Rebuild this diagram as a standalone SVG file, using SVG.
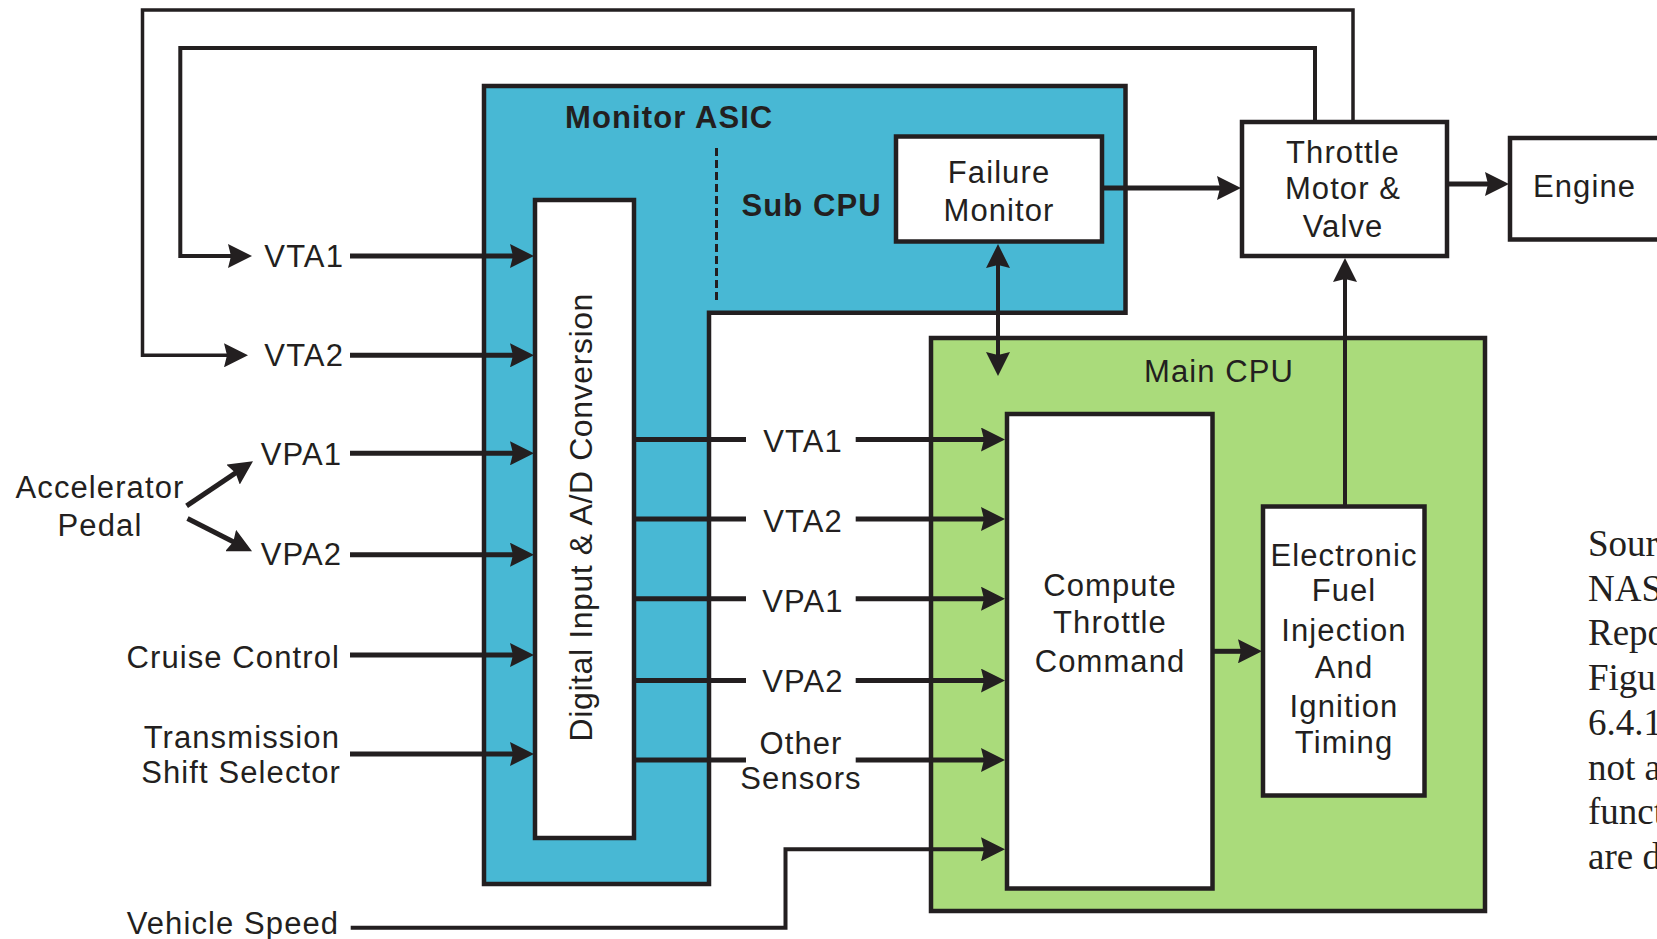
<svg xmlns="http://www.w3.org/2000/svg" width="1657" height="939" viewBox="0 0 1657 939">
<style>
.t{font-family:"Liberation Sans",Arial,sans-serif;font-size:31px;letter-spacing:1.1px;fill:#231F20}
.b{font-weight:bold}
.m{text-anchor:middle}
.e{text-anchor:end}
.src{font-family:"Liberation Serif","Times New Roman",serif;font-size:37px;fill:#231F20}
.box{fill:#fff;stroke:#231F20;stroke-width:4.5}
.c{fill:none;stroke:#231F20;stroke-width:5}
.c4{fill:none;stroke:#231F20;stroke-width:4}
.c3{fill:none;stroke:#231F20;stroke-width:3.5}
</style>
<defs>
<marker id="ah" viewBox="0 0 24 24" markerWidth="24" markerHeight="24" refX="4" refY="12" orient="auto-start-reverse" markerUnits="userSpaceOnUse">
<path d="M0,0 L24,12 L0,24 L3,12 Z" fill="#231F20"/>
</marker>
</defs>
<rect width="1657" height="939" fill="#fff"/>

<g id="monitor-asic">
<path d="M484,86 H1125.5 V312.7 H709 V884 H484 Z" fill="#48B8D4" stroke="#231F20" stroke-width="4.5"/>
<text class="t b" x="565" y="127.7">Monitor ASIC</text>
<line x1="716.5" y1="148" x2="716.5" y2="300" stroke="#231F20" stroke-width="3" stroke-dasharray="8 4"/>
<text class="t b" x="741.5" y="216">Sub CPU</text>
</g>

<g id="adc">
<rect class="box" x="535" y="200" width="99" height="638"/>
<text class="t" style="font-size:32px;letter-spacing:0.6px" text-anchor="middle" transform="translate(591.7,517.2) rotate(-90)">Digital Input &amp; A/D Conversion</text>
</g>

<g id="failure-monitor">
<rect class="box" x="896" y="136.5" width="206" height="105"/>
<text class="t m" x="999" y="182.7">Failure</text>
<text class="t m" x="999" y="221">Monitor</text>
</g>

<g id="throttle">
<rect class="box" x="1242" y="122" width="205" height="134"/>
<text class="t m" x="1343" y="163.3">Throttle</text>
<text class="t m" x="1343" y="199.3">Motor &amp;</text>
<text class="t m" x="1343" y="236.7">Valve</text>
</g>

<g id="engine">
<rect class="box" x="1510" y="138" width="170" height="101.5"/>
<text class="t" x="1533" y="196.7">Engine</text>
</g>

<g id="main-cpu">
<rect x="931" y="338" width="554" height="573" fill="#AADB7B" stroke="#231F20" stroke-width="4.5"/>
<text class="t" x="1144" y="381.5">Main CPU</text>
</g>

<g id="compute">
<rect class="box" x="1007" y="414" width="205.5" height="474.5"/>
<text class="t m" x="1110" y="596">Compute</text>
<text class="t m" x="1110" y="632.5">Throttle</text>
<text class="t m" x="1110" y="672">Command</text>
</g>

<g id="efi">
<rect class="box" x="1263" y="506.5" width="161.5" height="289"/>
<text class="t m" x="1344" y="565.5">Electronic</text>
<text class="t m" x="1344" y="601">Fuel</text>
<text class="t m" x="1344" y="641">Injection</text>
<text class="t m" x="1344" y="677.5">And</text>
<text class="t m" x="1344" y="717">Ignition</text>
<text class="t m" x="1344" y="753">Timing</text>
</g>

<g id="labels">
<text class="t e" x="344" y="266.7">VTA1</text>
<text class="t e" x="344" y="366">VTA2</text>
<text class="t e" x="342" y="465">VPA1</text>
<text class="t e" x="342" y="565">VPA2</text>
<text class="t m" x="100" y="498">Accelerator</text>
<text class="t m" x="100" y="535.8">Pedal</text>
<text class="t e" x="340" y="668">Cruise Control</text>
<text class="t e" x="340" y="748">Transmission</text>
<text class="t e" x="341" y="783">Shift Selector</text>
<text class="t" x="126.7" y="934.3">Vehicle Speed</text>
<text class="t m" x="803" y="451.5">VTA1</text>
<text class="t m" x="803" y="531.5">VTA2</text>
<text class="t m" x="803" y="611.5">VPA1</text>
<text class="t m" x="803" y="692">VPA2</text>
<text class="t m" x="801" y="754">Other</text>
<text class="t m" x="801" y="789">Sensors</text>
</g>

<g id="source-note">
<text class="src" x="1588" y="556">Sour</text>
<text class="src" x="1588" y="600.7">NAS</text>
<text class="src" x="1588" y="645.4">Repo</text>
<text class="src" x="1588" y="690.1">Figu</text>
<text class="src" x="1588" y="734.8">6.4.1</text>
<text class="src" x="1588" y="779.5">not a</text>
<text class="src" x="1588" y="824.2">funct</text>
<text class="src" x="1588" y="868.9">are d</text>
</g>

<g id="connectors">
<!-- feedback loops -->
<path class="c3" d="M1353,122 V10 H142.5 V355.3 H228" marker-end="url(#ah)"/>
<path class="c4" d="M1315,122 V48 H180.3 V256 H232" marker-end="url(#ah)"/>
<!-- inputs to ADC -->
<path class="c" d="M350,256 H514" marker-end="url(#ah)"/>
<path class="c" d="M350,355.3 H514" marker-end="url(#ah)"/>
<path class="c" d="M350,453.3 H514" marker-end="url(#ah)"/>
<path class="c" d="M350,554.7 H514" marker-end="url(#ah)"/>
<path class="c" d="M350,655 H514" marker-end="url(#ah)"/>
<path class="c" d="M350,754 H514" marker-end="url(#ah)"/>
<!-- accelerator pedal -->
<path class="c" d="M186.6,505.9 L236.4,472.4" marker-end="url(#ah)"/>
<path class="c" d="M187.5,518.6 L234.2,542.3" marker-end="url(#ah)"/>
<!-- ADC outputs -->
<path class="c" d="M634,439.5 H746"/>
<path class="c" d="M634,519 H746"/>
<path class="c" d="M634,598.7 H746"/>
<path class="c" d="M634,680.6 H746"/>
<path class="c" d="M634,760 H746"/>
<path class="c" d="M855.7,439.5 H985" marker-end="url(#ah)"/>
<path class="c" d="M855.7,519 H985" marker-end="url(#ah)"/>
<path class="c" d="M855.7,598.7 H985" marker-end="url(#ah)"/>
<path class="c" d="M855.7,680.6 H985" marker-end="url(#ah)"/>
<path class="c" d="M855.7,760 H985" marker-end="url(#ah)"/>
<!-- vehicle speed -->
<path class="c4" d="M350.7,927.7 H785.5 V849.3 H985" marker-end="url(#ah)"/>
<!-- compute to EFI -->
<path class="c" d="M1212.5,651.3 H1242" marker-end="url(#ah)"/>
<!-- EFI to throttle -->
<path class="c4" d="M1345,506.5 V278" marker-end="url(#ah)"/>
<!-- failure monitor <-> main cpu -->
<path class="c4" d="M998,264 V356" marker-start="url(#ah)" marker-end="url(#ah)"/>
<!-- failure monitor to throttle -->
<path class="c" d="M1102,188 H1221" marker-end="url(#ah)"/>
<!-- throttle to engine -->
<path class="c" d="M1447,184 H1489" marker-end="url(#ah)"/>
</g>
</svg>
